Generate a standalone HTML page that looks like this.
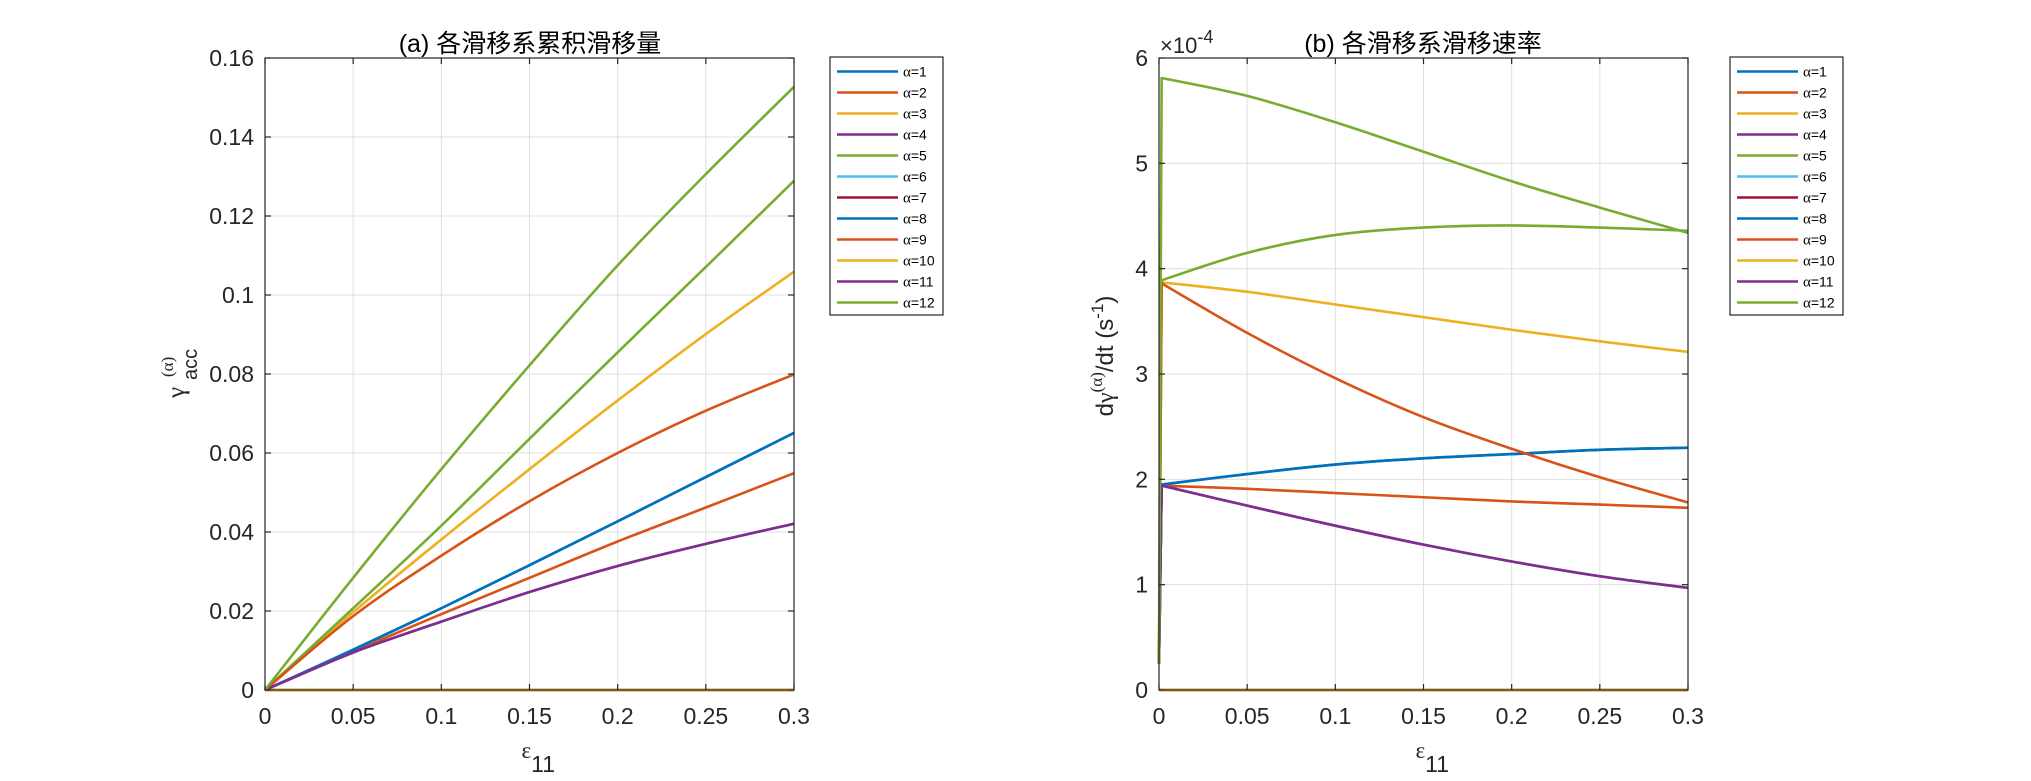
<!DOCTYPE html>
<html><head><meta charset="utf-8">
<style>
html,body{margin:0;padding:0;background:#fff;}
svg{display:block;font-family:"Liberation Sans","Noto Sans CJK SC",sans-serif;}
</style></head>
<body>
<svg id="fig" width="2031" height="781" viewBox="0 0 2031 781" xmlns="http://www.w3.org/2000/svg">
<rect width="2031" height="781" fill="#fff"/>
<g id="axA"></g>
<g id="axB"></g>
</svg>
<script>
// ---------- data ----------
const seriesNames = ["α=1","α=2","α=3","α=4","α=5","α=6","α=7","α=8","α=9","α=10","α=11","α=12"];
const seriesColors = ["#0072BD","#D95319","#EDB120","#7E2F8E","#77AC30","#4DBEEE","#A2142F","#0072BD","#D95319","#EDB120","#7E2F8E","#77AC30"];
// panel (a): accumulated slip
const strainA = [0, 0.05, 0.1, 0.15, 0.2, 0.25, 0.3];
const accA1  = [0, 0.0102, 0.0207, 0.0316, 0.0427, 0.0539, 0.0651];
const accA2  = [0, 0.0098, 0.0192, 0.0284, 0.0376, 0.0462, 0.0549];
const accA3  = [0, 0.0197, 0.0381, 0.0559, 0.0733, 0.0901, 0.1059];
const accA4  = [0, 0.0095, 0.0173, 0.0248, 0.0314, 0.0370, 0.0421];
const accA5  = [0, 0.0207, 0.0416, 0.0636, 0.0855, 0.1071, 0.1289];
const accA6  = [0, 0, 0, 0, 0, 0, 0];
const accA7  = [0, 0, 0, 0, 0, 0, 0];
const accA8  = [0, 0.0102, 0.0207, 0.0316, 0.0427, 0.0539, 0.0651];
const accA9  = [0, 0.0187, 0.0340, 0.0478, 0.0600, 0.0707, 0.0799];
const accA10 = [0, 0, 0, 0, 0, 0, 0];
const accA11 = [0, 0.0095, 0.0173, 0.0248, 0.0314, 0.0370, 0.0421];
const accA12 = [0, 0.0284, 0.0559, 0.0822, 0.1075, 0.1306, 0.1527];
// panel (b): slip rate (x1e-4)
const strainB = [0, 0.0015, 0.05, 0.1, 0.15, 0.2, 0.25, 0.3];
const rateB1  = [0.25, 1.95, 2.05, 2.14, 2.20, 2.24, 2.28, 2.30];
const rateB2  = [0.25, 1.94, 1.91, 1.87, 1.83, 1.79, 1.76, 1.73];
const rateB3  = [0.25, 3.87, 3.78, 3.66, 3.54, 3.42, 3.31, 3.21];
const rateB4  = [0.25, 1.94, 1.75, 1.56, 1.38, 1.22, 1.08, 0.97];
const rateB5  = [0.25, 3.89, 4.15, 4.32, 4.39, 4.41, 4.39, 4.36];
const rateB6  = [0, 0, 0, 0, 0, 0, 0, 0];
const rateB7  = [0, 0, 0, 0, 0, 0, 0, 0];
const rateB8  = [0.25, 1.95, 2.05, 2.14, 2.20, 2.24, 2.28, 2.30];
const rateB9  = [0.25, 3.86, 3.39, 2.96, 2.59, 2.29, 2.02, 1.78];
const rateB10 = [0, 0, 0, 0, 0, 0, 0, 0];
const rateB11 = [0.25, 1.94, 1.75, 1.56, 1.38, 1.22, 1.08, 0.97];
const rateB12 = [0.25, 5.81, 5.64, 5.39, 5.11, 4.83, 4.58, 4.34];
const xTicks = [0, 0.05, 0.1, 0.15, 0.2, 0.25, 0.3];
const xTickLabels = ["0","0.05","0.1","0.15","0.2","0.25","0.3"];
const yTicksA = [0, 0.02, 0.04, 0.06, 0.08, 0.1, 0.12, 0.14, 0.16];
const yTickLabelsA = ["0","0.02","0.04","0.06","0.08","0.1","0.12","0.14","0.16"];
const yTicksB = [0, 1, 2, 3, 4, 5, 6];
const yTickLabelsB = ["0","1","2","3","4","5","6"];

const seriesA = [accA1,accA2,accA3,accA4,accA5,accA6,accA7,accA8,accA9,accA10,accA11,accA12];
const seriesB = [rateB1,rateB2,rateB3,rateB4,rateB5,rateB6,rateB7,rateB8,rateB9,rateB10,rateB11,rateB12];

const NS = "http://www.w3.org/2000/svg";
function mk(parent, tag, attrs, text){
  const e = document.createElementNS(NS, tag);
  for (const k in attrs) e.setAttribute(k, attrs[k]);
  if (text !== undefined) e.textContent = text;
  parent.appendChild(e);
  return e;
}
function smoothPath(pts, straightFirst){
  let d = "M" + pts[0][0].toFixed(2) + "," + pts[0][1].toFixed(2);
  let start = 0;
  if (straightFirst){ d += "L" + pts[1][0].toFixed(2) + "," + pts[1][1].toFixed(2); start = 1; }
  for (let i = start; i < pts.length - 1; i++){
    const p0 = pts[Math.max(i-1, start)], p1 = pts[i], p2 = pts[i+1], p3 = pts[Math.min(i+2, pts.length-1)];
    const c1x = p1[0] + (p2[0]-p0[0])/6, c1y = p1[1] + (p2[1]-p0[1])/6;
    const c2x = p2[0] - (p3[0]-p1[0])/6, c2y = p2[1] - (p3[1]-p1[1])/6;
    d += "C" + c1x.toFixed(2) + "," + c1y.toFixed(2) + " " + c2x.toFixed(2) + "," + c2y.toFixed(2) + " " + p2[0].toFixed(2) + "," + p2[1].toFixed(2);
  }
  return d;
}

function drawPanel(g, cfg){
  const L = cfg.left, R = cfg.right, T = cfg.top, B = cfg.bottom;
  const sx = v => L + (v - 0) / (0.3 - 0) * (R - L);
  const sy = v => B - (v - cfg.ymin) / (cfg.ymax - cfg.ymin) * (B - T);
  const grid = mk(g, "g", {});
  
  
  xTicks.forEach(t => { mk(grid, "line", {x1:sx(t), x2:sx(t), y1:T, y2:B, stroke:"#e0e0e0", "stroke-width":1}); });
  cfg.yticks.forEach(t => { mk(grid, "line", {x1:L, x2:R, y1:sy(t), y2:sy(t), stroke:"#e0e0e0", "stroke-width":1}); });
  const sg = mk(g, "g", {});
  
  
  cfg.series.forEach((vals, i) => {
    const pts = vals.map((v, j) => [sx(cfg.xs[j]), sy(v)]);
    const p = mk(sg, "path", {d: smoothPath(pts, cfg.straightFirst), fill:"none", stroke:seriesColors[i], "stroke-width":2.6, "stroke-linejoin":"round"});
    
    
  });
  const box = mk(g, "rect", {x:L, y:T, width:R-L, height:B-T, fill:"none", stroke:"#262626", "stroke-width":1.2});
  
  
  const xt = mk(g, "g", {});
  
  
  xTicks.forEach((t, i) => {
    mk(xt, "line", {x1:sx(t), x2:sx(t), y1:B, y2:B-6, stroke:"#262626", "stroke-width":1.2});
    mk(xt, "line", {x1:sx(t), x2:sx(t), y1:T, y2:T+6, stroke:"#262626", "stroke-width":1.2});
    const tl = mk(xt, "text", {x:sx(t), y:B+34, "text-anchor":"middle", "font-size":23, fill:"#262626"}, xTickLabels[i]);
    
    
  });
  const yt = mk(g, "g", {});
  
  
  cfg.yticks.forEach((t, i) => {
    mk(yt, "line", {x1:L, x2:L+6, y1:sy(t), y2:sy(t), stroke:"#262626", "stroke-width":1.2});
    mk(yt, "line", {x1:R, x2:R-6, y1:sy(t), y2:sy(t), stroke:"#262626", "stroke-width":1.2});
    const tl = mk(yt, "text", {x:L-11, y:sy(t)+8, "text-anchor":"end", "font-size":23, fill:"#262626"}, cfg.ytickLabels[i]);
    
    
  });
  const xl = mk(g, "text", {x:(L+R)/2 - 8, y:758, "font-size":23, fill:"#262626", "font-family":"Liberation Serif, serif"});
  
  
  mk(xl, "tspan", {}, "ε");
  mk(xl, "tspan", {dy:14, "font-size":23, "font-family":"Liberation Sans, sans-serif"}, "11");
  const tt = mk(g, "text", {x:cfg.titleX, y:52, "text-anchor":"middle", "font-size":25, fill:"#000"}, cfg.title);
  
  
  const lg = mk(g, "g", {});
  
  
  mk(lg, "rect", {x:cfg.legX, y:57, width:113, height:258, fill:"#fff", stroke:"#262626", "stroke-width":1.2});
  seriesNames.forEach((n, i) => {
    const yy = 71.5 + i*21;
    const en = mk(lg, "g", {});
    
    
    mk(en, "line", {x1:cfg.legX+7, x2:cfg.legX+68, y1:yy, y2:yy, stroke:seriesColors[i], "stroke-width":2.6});
    const tx = mk(en, "text", {x:cfg.legX+73, y:yy+5, "font-size":14, fill:"#000"});
    mk(tx, "tspan", {"font-family":"Liberation Serif, serif", "font-size":15}, "α");
    mk(tx, "tspan", {}, n.slice(1));
  });
}

drawPanel(document.getElementById("axA"), {
  left:265, right:794, top:58, bottom:690, ymin:0, ymax:0.16,
  yticks:yTicksA, ytickLabels:yTickLabelsA, xs:strainA, series:seriesA, straightFirst:false,
  title:"(a) 各滑移系累积滑移量", titleX:530, legX:830
});
drawPanel(document.getElementById("axB"), {
  left:1159, right:1688, top:58, bottom:690, ymin:0, ymax:6,
  yticks:yTicksB, ytickLabels:yTickLabelsB, xs:strainB, series:seriesB, straightFirst:true,
  title:"(b) 各滑移系滑移速率", titleX:1423, legX:1730
});

const fig = document.getElementById("fig");
const yA = mk(fig, "g", {transform:"translate(184,374) rotate(-90)", fill:"#262626"});


mk(yA, "text", {x:-24, y:0, "font-size":25, "font-family":"Liberation Serif, serif"}, "γ");
mk(yA, "text", {x:-3, y:-11, "font-size":17, "font-family":"Liberation Serif, serif"}, "(α)");
mk(yA, "text", {x:-6, y:13, "font-size":20}, "acc");

const yB = mk(fig, "text", {transform:"translate(1113,356) rotate(-90)", "text-anchor":"middle", "font-size":24, fill:"#262626"});


mk(yB, "tspan", {}, "d");
mk(yB, "tspan", {"font-family":"Liberation Serif, serif"}, "γ");
mk(yB, "tspan", {dy:-11, "font-size":17, "font-family":"Liberation Serif, serif"}, "(α)");
mk(yB, "tspan", {dy:11}, "/dt (s");
mk(yB, "tspan", {dy:-10, "font-size":17}, "-1");
mk(yB, "tspan", {dy:10}, ")");

const ex = mk(fig, "text", {x:1160, y:53, "font-size":22, fill:"#262626"});


mk(ex, "tspan", {}, "×10");
mk(ex, "tspan", {dy:-10, "font-size":18}, "-4");
</script>
</body></html>
